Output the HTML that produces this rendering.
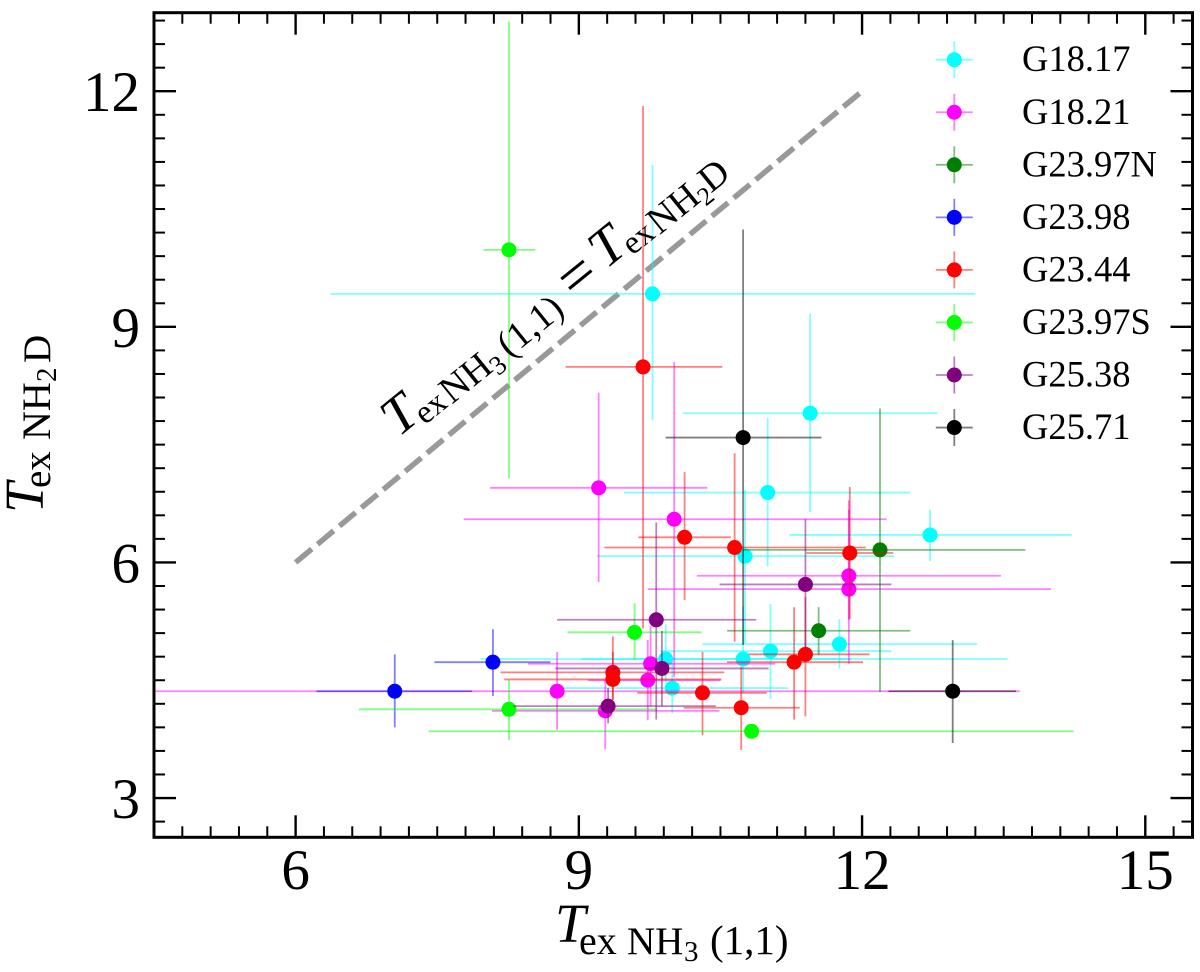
<!DOCTYPE html>
<html lang="en">
<head>
<meta charset="utf-8">
<title>Excitation temperature comparison</title>
<style>
html,body{margin:0;padding:0;background:#fff;width:1200px;height:972px;overflow:hidden}
svg{display:block}
text{font-family:"Liberation Serif",serif;fill:#000}
</style>
</head>
<body>
<svg id="chart" xmlns="http://www.w3.org/2000/svg" width="1200" height="972" viewBox="0 0 1200 972">
  <defs><clipPath id="plot-clip"><rect x="154" y="13" width="1038" height="824"/></clipPath></defs>
  <g id="marks"></g>
  <g id="axes"></g>
  <g id="legend"></g>

  <g>
    <text x="555" y="942" font-size="55" font-style="italic">T</text>
    <text x="579" y="954" font-size="40">ex</text>
    <text x="627" y="954" font-size="39">NH</text>
    <text x="684" y="961" font-size="29">3</text>
    <text x="710" y="954" font-size="41">(1,1)</text>
  </g>

  <g transform="translate(43,513) rotate(-90)">
    <text x="0" y="0" font-size="55" font-style="italic">T</text>
    <text x="25" y="7" font-size="39">ex</text>
    <text x="73" y="7" font-size="40">NH</text>
    <text x="131" y="13" font-size="29">2</text>
    <text x="150" y="7" font-size="39">D</text>
  </g>

  <g transform="translate(408,430) rotate(-39)">
    <text x="-12" y="0" font-size="54" font-style="italic">T</text>
    <text x="16" y="7" font-size="33">ex</text>
    <text x="50" y="8" font-size="38">NH</text>
    <text x="104" y="15" font-size="27">3</text>
    <text x="124" y="8" font-size="38">(1,1)</text>
    <text x="211" y="6" font-size="62">=</text>
    <text x="255" y="0" font-size="54" font-style="italic">T</text>
    <text x="284" y="6" font-size="33">ex</text>
    <text x="318" y="7" font-size="38">NH</text>
    <text x="372" y="14" font-size="26">2</text>
    <text x="384" y="7" font-size="38">D</text>
  </g>
</svg>

<script>
const seriesLabels = ['G18.17','G18.21','G23.97N','G23.98','G23.44','G23.97S','G25.38','G25.71'];
const seriesColors = ['#00ffff','#ff00ff','#008000','#0000ff','#ff0000','#00ff00','#800080','#000000'];
const xMajorTicks = [6,9,12,15];
const yMajorTicks = [3,6,9,12];
const equalityLine = [6,12];

// Which series each point belongs to (index into seriesLabels)
const pointSeries = [0,0,0,0,0,0,0,0,0,0, 1,1,1,1,1,1,1,1, 2,2, 3,3, 4,4,4,4,4,4,4,4,4,4, 5,5,5,5, 6,6,6,6, 7,7];
// T_ex NH3(1,1)
const texNH3 = [9.78,11.45,11.00,12.72,10.76,11.76,11.03,10.74,9.92,9.99,
  9.21,10.01,11.86,11.86,9.76,9.73,8.77,9.28,
  12.19,11.54,
  7.05,8.09,
  9.68,10.12,10.65,11.87,11.40,11.28,9.36,9.36,10.31,10.72,
  8.26,9.59,8.26,10.83,
  9.82,11.40,9.88,9.31,
  10.74,12.96];
const texNH3Low = [6.37,10.10,9.48,11.23,9.19,10.31,9.86,9.03,7.96,8.84,
  8.06,7.78,10.25,9.73,8.46,9.10,4.00,8.08,
  10.74,10.57,
  6.22,7.47,
  8.86,9.63,9.27,11.41,10.80,10.57,8.17,8.21,9.62,10.11,
  7.99,8.88,6.67,7.41,
  8.77,10.49,8.75,8.31,
  9.92,12.28];
const texNH3High = [13.20,12.80,12.51,14.22,12.34,13.22,12.31,13.54,11.89,11.22,
  10.36,12.26,13.47,14.00,11.08,10.50,13.67,10.49,
  13.73,12.51,
  7.87,8.70,
  10.52,10.61,12.04,12.33,12.08,12.01,10.54,10.51,10.99,11.34,
  8.54,10.30,9.83,14.24,
  10.88,12.31,11.01,10.45,
  11.57,13.63];
// T_ex NH2D
const texNH2D = [9.42,7.90,6.89,6.35,6.08,4.96,4.87,4.77,4.77,4.40,
  6.95,6.55,5.83,5.66,4.71,4.50,4.36,4.11,
  6.16,5.13,
  4.36,4.73,
  8.49,6.32,6.19,6.12,4.83,4.73,4.60,4.51,4.34,4.15,
  9.98,5.11,4.13,3.85,
  5.27,5.72,4.65,4.17,
  7.59,4.36];
const texNH2DLow = [7.81,6.64,5.95,6.02,4.97,4.65,4.26,4.34,4.46,4.08,
  5.75,4.54,5.27,4.71,4.17,3.99,3.87,3.62,
  4.35,4.82,
  3.90,4.30,
  5.16,5.52,4.99,5.28,4.04,4.00,4.25,4.25,3.80,3.61,
  7.07,4.76,3.74,3.78,
  4.00,4.92,4.17,3.95,
  4.95,3.70];
const texNH2DHigh = [11.06,9.17,7.84,6.67,6.92,5.28,5.47,5.44,5.21,4.72,
  8.16,8.55,6.79,6.67,5.19,5.01,4.86,4.50,
  7.96,5.43,
  4.83,5.15,
  11.81,7.15,7.39,6.96,5.56,5.43,5.06,4.86,4.86,4.67,
  12.89,5.48,4.51,3.93,
  6.51,6.55,5.13,4.40,
  10.24,5.01];

const NS = 'http://www.w3.org/2000/svg';
const X0 = 154, X1 = 1192.5, Y0 = 837.3, Y1 = 12.7;
const xMin = 4.5, xMax = 15.5, yMin = 2.5, yMax = 13;
function xScale(v){ return X0 + (v - xMin) * (X1 - X0) / (xMax - xMin); }
function yScale(v){ return Y0 - (v - yMin) * (Y0 - Y1) / (yMax - yMin); }
function mk(tag, attrs, parent){
  const el = document.createElementNS(NS, tag);
  for (const k in attrs) el.setAttribute(k, attrs[k]);
  parent.appendChild(el);
  return el;
}

const marks = document.getElementById('marks');
const axes = document.getElementById('axes');
const legend = document.getElementById('legend');
const clipGroup = mk('g', {'clip-path':'url(#plot-clip)'}, marks);



// Equality reference line
const refLine = mk('line', {x1:xScale(equalityLine[0]), y1:yScale(equalityLine[0]), x2:xScale(equalityLine[1]), y2:yScale(equalityLine[1]), stroke:'#999999', 'stroke-width':5.5, 'stroke-dasharray':'21 7.5'}, clipGroup);



// Series: error bars under the marker, later series on top
for (let s = 0; s < seriesLabels.length; s++) {
  const group = mk('g', {}, clipGroup);
  
  
  for (let i = 0; i < pointSeries.length; i++) {
    if (pointSeries[i] !== s) continue;
    const hBar = mk('line', {x1:xScale(texNH3Low[i]), x2:xScale(texNH3High[i]), y1:yScale(texNH2D[i]), y2:yScale(texNH2D[i]), stroke:seriesColors[s], 'stroke-width':1.8, 'stroke-opacity':0.5}, group);
    
    
    const vBar = mk('line', {x1:xScale(texNH3[i]), x2:xScale(texNH3[i]), y1:yScale(texNH2DLow[i]), y2:yScale(texNH2DHigh[i]), stroke:seriesColors[s], 'stroke-width':1.8, 'stroke-opacity':0.5}, group);
    
    
  }
  for (let i = 0; i < pointSeries.length; i++) {
    if (pointSeries[i] !== s) continue;
    const dot = mk('circle', {cx:xScale(texNH3[i]), cy:yScale(texNH2D[i]), r:7.5, fill:seriesColors[s]}, group);
    
    
  }
}

// Axes frame
const frame = mk('rect', {x:X0, y:Y1, width:X1-X0, height:Y0-Y1, fill:'none', stroke:'#000', 'stroke-width':3}, axes);



// Minor ticks every 0.3, major ticks from arrays
for (let k = 1; k * 0.3 + xMin < xMax; k++) {
  const v = xMin + k * 0.3;
  const major = xMajorTicks.some(function(t){ return Math.abs(t - v) < 0.01; });
  const len = major ? 22 : 11;
  const sw = major ? 2.4 : 2;
  const b = mk('line', {x1:xScale(v), x2:xScale(v), y1:Y0, y2:Y0-len, stroke:'#000', 'stroke-width':sw}, axes);
  
  
  const t = mk('line', {x1:xScale(v), x2:xScale(v), y1:Y1, y2:Y1+len, stroke:'#000', 'stroke-width':sw}, axes);
  
  
}
for (let k = 1; k * 0.3 + yMin - 0.1 < yMax; k++) {
  const v = yMin - 0.1 + k * 0.3;
  const major = yMajorTicks.some(function(t){ return Math.abs(t - v) < 0.01; });
  const len = major ? 22 : 11;
  const sw = major ? 2.4 : 2;
  const l = mk('line', {x1:X0, x2:X0+len, y1:yScale(v), y2:yScale(v), stroke:'#000', 'stroke-width':sw}, axes);
  
  
  const r = mk('line', {x1:X1, x2:X1-len, y1:yScale(v), y2:yScale(v), stroke:'#000', 'stroke-width':sw}, axes);
  
  
}
xMajorTicks.forEach(function(v){
  const t = mk('text', {x:xScale(v), y:889, 'font-size':57, 'text-anchor':'middle'}, axes);
  t.textContent = String(v);
  
  
});
yMajorTicks.forEach(function(v){
  const t = mk('text', {x:140, y:yScale(v)+20, 'font-size':57, 'text-anchor':'end'}, axes);
  t.textContent = String(v);
  
  
});

// Legend
seriesLabels.forEach(function(label, s){
  const cy = 59.7 + s * 52.55, cx = 954.3;
  const entry = mk('g', {}, legend);
  
  
  const h = mk('line', {x1:cx-18.5, x2:cx+18.5, y1:cy, y2:cy, stroke:seriesColors[s], 'stroke-width':1.8, 'stroke-opacity':0.5}, entry);
  
  
  const v = mk('line', {x1:cx, x2:cx, y1:cy-18.5, y2:cy+18.5, stroke:seriesColors[s], 'stroke-width':1.8, 'stroke-opacity':0.5}, entry);
  
  
  const c = mk('circle', {cx:cx, cy:cy, r:7.5, fill:seriesColors[s]}, entry);
  
  
  const t = mk('text', {x:1022, y:cy+11.5, 'font-size':36.5}, entry);
  t.textContent = label;
  
  
});
</script>
</body>
</html>
